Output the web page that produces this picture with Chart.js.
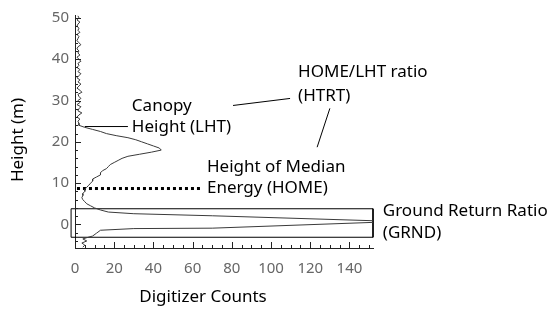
<!DOCTYPE html>
<html>
<head>
<meta charset="utf-8">
<script src="https://cdn.jsdelivr.net/npm/chart.js@4.4.0/dist/chart.umd.min.js"></script>
<style>
  html, body { margin: 0; padding: 0; background: #fff; }
  canvas { display: block; }
</style>
</head>
<body>
<canvas id="waveChart" width="551" height="309"></canvas>
<script>
// waveform samples: height (m) and digitizer counts
const heights = [
  50.5, 50, 49.5, 49, 48.5, 48, 47.5, 47, 46.5, 46,
  45.5, 45, 44.5, 44, 43.5, 43, 42.5, 42, 41.5, 41,
  40.5, 40, 39.5, 39, 38.5, 38, 37.5, 37, 36.5, 36,
  35.5, 35, 34.5, 34, 33.5, 33, 32.5, 32, 31.5, 31,
  30.5, 30, 29.5, 29, 28.5, 28, 27.5, 27, 26.5, 26,
  25.5, 25, 24.5,
  24, 23.5, 23, 22.5, 22, 21.5, 21, 20.5, 20, 19.5,
  19, 18.5, 18, 17.5, 17, 16.5, 16, 15.5, 15, 14.5,
  14, 13.5, 13, 12.5, 12, 11.5, 11, 10.5, 10, 9.5,
  9, 8.5, 8, 7.5, 7, 6.5, 6, 5.5, 5, 4.5,
  4, 3.5, 3, 2.6, 2.1, 0.9, 0.7, 0.5, -0.9, -1.0,
  -1.4, -2.1, -2.8, -3.2, -3.5, -4, -4.5, -5, -5.5
];
const counts = [
  1.5, 2, 1, 2.5, 1.5, 1, 2, 1.5, 2.5, 1,
  2, 1.5, 1, 2, 3, 1.5, 1, 2, 1.5, 2.5,
  1, 2, 3, 1.5, 2, 1, 2.5, 1.5, 3, 2,
  1, 2.5, 1.5, 3, 2, 1, 2.5, 3.5, 1.5, 2,
  3, 1.5, 2.5, 1, 3, 2, 1.5, 3.5, 2, 1,
  2.5, 1.5, 2,
  2, 5, 9, 13, 16, 21, 27, 31, 34, 37,
  40, 43, 44, 39, 33, 27, 24, 22, 20, 18,
  17, 16, 14, 13, 13, 11, 9, 9, 8, 7,
  6, 5, 5, 4, 4, 3.5, 4, 5, 6, 8,
  10, 13, 17, 30, 70, 152, 156, 152, 70, 30,
  13, 11, 9, 6, 4, 6, 3.5, 5, 4
];

// ground return box corners and height of median energy
const grndBoxX = [-2, 152, 152, -2, -2];
const grndBoxY = [3.8, 3.8, -3.1, -3.1, 3.8];
const homeX = [1, 65];
const homeY = [8.7, 8.7];

const yTicks = [0, 10, 20, 30, 40, 50];
const xTicks = [0, 20, 40, 60, 80, 100, 120, 140];

const FONT = "'Noto Sans', 'DejaVu Sans', sans-serif";

// labels placed in data units, left-aligned, vertically centred
const notes = [
  ['Canopy', 29, 28.6],
  ['Height (LHT)', 29, 23.6],
  ['HOME/LHT ratio', 113.8, 36.9],
  ['(HTRT)', 113.8, 31],
  ['Height of Median', 67.3, 13.9],
  ['Energy (HOME)', 67.3, 8.7],
  ['Ground Return Ratio', 157, 3.1],
  ['(GRND)', 157, -2.1]
];
const leaders = [
  [[5, 23.7], [27, 23.7]],
  [[80.6, 28.8], [109.7, 30.5]],
  [[130, 28.1], [123.5, 18.7]]
];

const inwardTicks = {
  id: 'inwardTicks',
  afterDatasetsDraw(chart) {
    const { ctx, chartArea, scales: { x, y } } = chart;
    ctx.save();
    ctx.strokeStyle = '#222';
    ctx.lineWidth = 1;
    ctx.beginPath();
    for (let v = -4; v <= 50; v += 2) {
      const py = Math.round(y.getPixelForValue(v)) + 0.5;
      const len = v % 10 === 0 ? 6 : 3;
      ctx.moveTo(chartArea.left, py);
      ctx.lineTo(chartArea.left + len, py);
    }
    for (let v = 0; v <= 150; v += 5) {
      const px = Math.round(x.getPixelForValue(v)) + 0.5;
      const len = v % 20 === 0 ? 6 : 3;
      ctx.moveTo(px, chartArea.bottom);
      ctx.lineTo(px, chartArea.bottom - len);
    }
    ctx.stroke();
    ctx.restore();
  }
};

const annotations = {
  id: 'annotations',
  afterDraw(chart) {
    const { ctx, scales: { x, y } } = chart;
    ctx.save();
    ctx.fillStyle = '#000';
    ctx.font = '17px ' + FONT;
    ctx.textAlign = 'left';
    ctx.textBaseline = 'middle';
    notes.forEach(([txt, vx, vy]) => {
      ctx.fillText(txt, x.getPixelForValue(vx), y.getPixelForValue(vy));
    });
    ctx.strokeStyle = '#000';
    ctx.lineWidth = 1;
    leaders.forEach(([a, b]) => {
      ctx.beginPath();
      ctx.moveTo(x.getPixelForValue(a[0]), y.getPixelForValue(a[1]));
      ctx.lineTo(x.getPixelForValue(b[0]), y.getPixelForValue(b[1]));
      ctx.stroke();
    });

    // axis titles
    ctx.textAlign = 'center';
    ctx.fillText('Digitizer Counts', 203, 297);
    ctx.translate(18, 140);
    ctx.rotate(-Math.PI / 2);
    ctx.fillText('Height (m)', 0, 0);
    ctx.restore();
  }
};

const ctx = document.getElementById('waveChart').getContext('2d');
const waveChart = new Chart(ctx, {
  type: 'scatter',
  data: {
    datasets: [
      {
        label: 'Waveform',
        data: heights.map((h, i) => ({ x: counts[i], y: h })),
        showLine: true,
        borderColor: '#3a3a3a',
        borderWidth: 1,
        pointRadius: 0,
        tension: 0
      },
      {
        label: 'HOME',
        data: homeX.map((v, i) => ({ x: v, y: homeY[i] })),
        showLine: true,
        borderColor: '#000',
        borderWidth: 3,
        borderDash: [3, 3],
        pointRadius: 0
      },
      {
        label: 'GRND',
        data: grndBoxX.map((v, i) => ({ x: v, y: grndBoxY[i] })),
        showLine: true,
        borderColor: '#000',
        borderWidth: 1,
        pointRadius: 0,
        clip: false
      }
    ]
  },
  options: {
    responsive: false,
    animation: false,
    layout: { padding: { left: 0, right: 178, top: 10, bottom: 0 } },
    plugins: { legend: { display: false }, tooltip: { enabled: false } },
    scales: {
      x: {
        min: 0,
        max: 152,
        afterBuildTicks: (s) => { s.ticks = xTicks.map(v => ({ value: v })); },
        afterFit: (s) => { s.height = 61; },
        grid: { display: false, drawTicks: false },
        border: { display: true, color: '#222', width: 1 },
        ticks: { color: '#666', padding: 12, maxRotation: 0, font: { family: FONT, size: 15 } }
      },
      y: {
        min: -5.7,
        max: 50.7,
        afterBuildTicks: (s) => { s.ticks = yTicks.map(v => ({ value: v })); },
        afterFit: (s) => { s.width = 75; },
        grid: { display: false, drawTicks: false },
        border: { display: true, color: '#222', width: 1 },
        ticks: { color: '#666', padding: 6, font: { family: FONT, size: 15 } }
      }
    }
  },
  plugins: [inwardTicks, annotations]
});
</script>
</body>
</html>
